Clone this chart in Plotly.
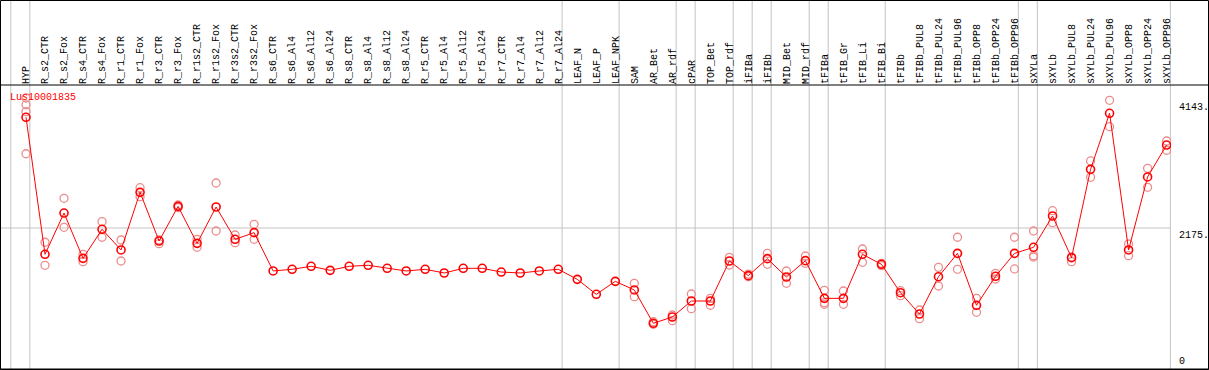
import plotly.graph_objects as go

groups = [
    ["HYP"],
    ["R_s2_CTR", "R_s2_Fox", "R_s4_CTR", "R_s4_Fox", "R_r1_CTR", "R_r1_Fox", "R_r3_CTR", "R_r3_Fox",
     "R_r1s2_CTR", "R_r1s2_Fox", "R_r3s2_CTR", "R_r3s2_Fox", "R_s6_CTR", "R_s6_Al4", "R_s6_Al12",
     "R_s6_Al24", "R_s8_CTR", "R_s8_Al4", "R_s8_Al12", "R_s8_Al24", "R_r5_CTR", "R_r5_Al4",
     "R_r5_Al12", "R_r5_Al24", "R_r7_CTR", "R_r7_Al4", "R_r7_Al12", "R_r7_Al24"],
    ["LEAF_N", "LEAF_P", "LEAF_NPK"],
    ["SAM", "AR_Bet", "AR_rdf"],
    ["cPAR"],
    ["TOP_Bet", "TOP_rdf"],
    ["iFIBa"],
    ["iFIBb"],
    ["MID_Bet", "MID_rdf"],
    ["tFIBa"],
    ["tFIB_Gr", "tFIB_Li", "tFIB_Bi"],
    ["tFIBb", "tFIBb_PUL8", "tFIBb_PUL24", "tFIBb_PUL96", "tFIBb_OPP8", "tFIBb_OPP24", "tFIBb_OPP96"],
    ["sXYLa"],
    ["sXYLb", "sXYLb_PUL8", "sXYLb_PUL24", "sXYLb_PUL96", "sXYLb_OPP8", "sXYLb_OPP24", "sXYLb_OPP96"],
]
categories = [c for g in groups for c in g]

means = [3883, 1769, 2406, 1707, 2155, 1836, 2725, 1974, 2509, 1938, 2499, 2001, 2103,
         1512, 1538, 1584, 1522, 1584, 1600, 1553, 1512, 1538, 1481, 1553, 1553, 1496, 1481, 1512, 1538,
         1383, 1152, 1352,
         1219, 705, 802,
         1049,
         1049, 1666,
         1440,
         1702,
         1419, 1671,
         1090,
         1090, 1769, 1615,
         1177, 848, 1424, 1784, 983, 1430, 1784,
         1877,
         2360, 1717, 3080, 3944, 1836, 2962, 3455]

replicates = [
    [4180, 4075, 3970, 3320],
    [1955, 1600], [2633, 2186], [1769, 1655], [2273, 2032], [1990, 1666], [2797, 2658],
    [1990, 1933], [2530, 2488], [2001, 1877], [2869, 2129], [2067, 1948], [2232, 2001],
    [], [], [], [], [], [], [], [], [], [], [], [], [], [], [], [],
    [], [], [],
    [1322, 1116], [730, 689], [833, 745],
    [1157, 930],
    [1090, 983], [1723, 1604],
    [1465, 1424],
    [1784, 1615],
    [1512, 1322], [1743, 1630],
    [1214, 1023, 998],
    [1203, 998], [1851, 1646], [1630, 1594],
    [1208, 1131], [910, 776], [1568, 1280], [2032, 1538], [1090, 875], [1476, 1388], [2032, 1543],
    [2129, 1748, 1728],
    [2442, 2257], [1728, 1655], [3209, 2957], [4145, 3738], [1928, 1748], [3096, 2803], [3517, 3374],
]

y_ticks = [0, 2175, 4143]
y_tick_text = ["0", "2175.", "4143."]
series_name = "Lus10001835"

idx = list(range(len(categories)))
rep_x = [i for i, r in zip(idx, replicates) for _ in r]
rep_y = [v for r in replicates for v in r]

FONT = "Liberation Mono"
W, H = 1209, 370
L, R, T, B = 1, 38, 85, 1
PW, PH = W - L - R, H - T - B

fig = go.Figure()
fig.add_trace(go.Scatter(
    x=rep_x, y=rep_y, mode="markers",
    marker=dict(symbol="circle-open", size=8, color="rgb(236,140,140)", line=dict(width=1.3)),
    hoverinfo="skip"))
fig.add_trace(go.Scatter(
    x=idx, y=means, mode="lines+markers", name=series_name,
    line=dict(color="#ff0000", width=1),
    marker=dict(symbol="circle-open", size=8, color="#ff0000", line=dict(width=1.6))))

shapes = []
# group separators
starts = []
k = 0
for g in groups:
    starts.append(k)
    k += len(g)
seps = [s - 0.8 for s in starts] + [len(categories) - 1 + 0.2]
for s in seps:
    shapes.append(dict(type="line", xref="x", yref="paper", x0=s, x1=s, y0=0, y1=1 + T / PH + 0.01,
                       line=dict(color="#c3c3c3", width=1), layer="below"))
# horizontal grid at middle tick
shapes.append(dict(type="line", xref="paper", yref="y", x0=0, x1=1, y0=y_ticks[1], y1=y_ticks[1],
                   line=dict(color="#c3c3c3", width=1), layer="below"))
# frame
def px(X):
    return (X - L) / PW
def py(Y):
    return (H - B - Y) / PH
shapes.append(dict(type="rect", xref="paper", yref="paper", x0=px(0.5), x1=px(W - 0.5), y0=py(H - 0.5), y1=py(0.5),
                   line=dict(color="black", width=1)))
shapes.append(dict(type="line", xref="paper", yref="paper", x0=px(0), x1=px(W), y0=1, y1=1,
                   line=dict(color="black", width=1)))
shapes.append(dict(type="line", xref="paper", yref="paper", x0=px(0), x1=px(W), y0=0, y1=0,
                   line=dict(color="black", width=1)))

annotations = [dict(text=series_name, xref="paper", yref="paper", x=px(8), y=py(97), xanchor="left",
                    yanchor="middle", showarrow=False, font=dict(family=FONT, size=10, color="#ff0000"))]
for v, t in zip(y_ticks, y_tick_text):
    annotations.append(dict(text=t, xref="paper", yref="y", x=1, xshift=6, y=v, xanchor="left",
                            yanchor="bottom" if v == 0 else "top", showarrow=False,
                            font=dict(family=FONT, size=10, color="black")))

step = 19.01
x0v = (L - 26) / step
x1v = (L + PW - 26) / step
ymax = 2175 * PH / 141.0

fig.update_layout(
    width=W, height=H, margin=dict(l=L, r=R, t=T, b=B, pad=0),
    paper_bgcolor="white", plot_bgcolor="white", showlegend=False,
    shapes=shapes, annotations=annotations,
    xaxis=dict(range=[x0v, x1v], side="top", tickmode="array", tickvals=idx, ticktext=categories,
               tickangle=-90, ticks="", showgrid=False, zeroline=False, showline=False,
               tickfont=dict(family=FONT, size=10, color="black"), fixedrange=True),
    yaxis=dict(range=[0, ymax], showticklabels=False, showgrid=False, zeroline=False, showline=False,
               ticks="", fixedrange=True),
)

fig.write_html("out.html", config={"displayModeBar": False},
               post_script="document.body.style.margin='0';document.body.style.overflow='hidden';")
